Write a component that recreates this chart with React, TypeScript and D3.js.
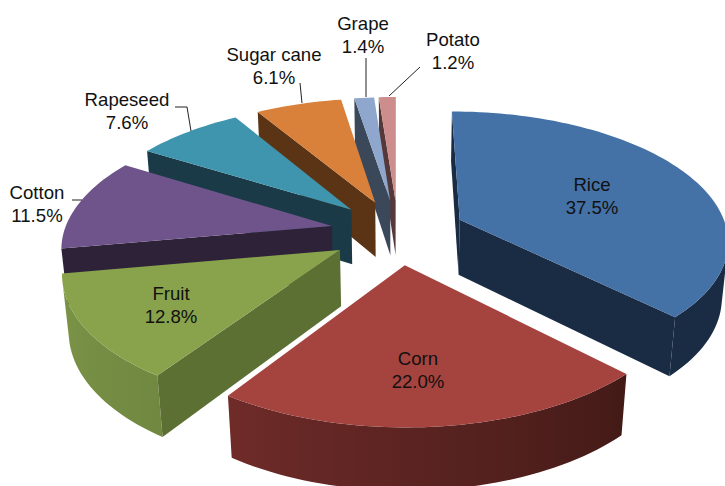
import * as d3 from "d3";

const categories = ["Rice", "Corn", "Fruit", "Cotton", "Rapeseed", "Sugar cane", "Grape", "Potato"];
const shares = [37.5, 22.0, 12.8, 11.5, 7.6, 6.1, 1.4, 1.2];

const topColors = ["#4471a6", "#a5433f", "#88a34b", "#6f548c", "#3f95ad", "#d9803a", "#8fa6cd", "#cd8d8c"];
const wallColors = ["#1a2c44", "#431a17", "#5d7033", "#2d2238", "#193a46", "#5a3415", "#3b485a", "#55393a"];
const rimColors = ["#1a2c44", "#883533", "#7c9648", "#2d2238", "#193a46", "#5a3415", "#3b485a", "#55393a"];

// slices painted back to front
const paintOrder = [7, 6, 5, 4, 3, 2, 0, 1];

const labelCenters: [number, number][] = [
  [592, 184], [418, 358], [171, 293], [37, 192], [127, 99], [274, 54], [363, 23], [453, 39],
];
const leaders: [number, number][][] = [
  [], [], [],
  [[72, 200], [82, 200]],
  [[175, 107], [187, 107], [191, 131]],
  [[300, 83], [302, 103]],
  [[366, 58], [366, 97]],
  [[389, 96], [420, 67]],
];

const width = 725;
const height = 486;

// pinhole camera looking down on the pie, radius 1
const cx = 398;
const cy = 232;
const focal = 1610;
const dist = 6.01;
const tilt = Math.asin(0.476);
const explode = 0.253;
const thickness = 0.24;

const project = (x: number, y: number, z: number): [number, number] => {
  const d = dist - y * Math.cos(tilt) - z * Math.sin(tilt);
  return [cx + (focal * x) / d, cy + (focal * (y * Math.sin(tilt) - z * Math.cos(tilt))) / d];
};

const polygon = d3.line().curve(d3.curveLinearClosed);

const App = () => {
  const arcs = d3.pie<number>().sort(null)(shares);

  const slices = paintOrder.map((i) => {
    const { startAngle, endAngle } = arcs[i];
    const mid = (startAngle + endAngle) / 2;
    const ox = explode * Math.sin(mid);
    const oy = -explode * Math.cos(mid);
    const steps = Math.max(2, Math.ceil((endAngle - startAngle) / 0.03));
    const angle = d3.scaleLinear().domain([0, steps]).range([startAngle, endAngle]);

    const apex = [ox, oy];
    const rim = d3.range(steps + 1).map((s) => {
      const a = angle(s);
      return [ox + Math.sin(a), oy - Math.cos(a), a];
    });

    const quad = (p: number[], q: number[]) => [
      project(p[0], p[1], 0),
      project(q[0], q[1], 0),
      project(q[0], q[1], -thickness),
      project(p[0], p[1], -thickness),
    ];

    // flat cut faces, only when turned towards the camera
    const cuts = [quad(apex, rim[0]), quad(rim[steps], apex)]
      .filter((poly) => d3.polygonArea(poly) > 0)
      .map((poly) => polygon(poly) as string);

    // the part of the round wall we can see, as one path with a sideways gradient
    const seen = rim.filter((p, n) => {
      const q = rim[n + 1] ?? rim[n - 1];
      const poly = rim[n + 1] ? quad(p, q) : quad(q, p);
      return d3.polygonArea(poly) > 0;
    });
    const shade = d3
      .scaleLinear<string>()
      .domain([(3 * Math.PI) / 4, (13 * Math.PI) / 9])
      .range([wallColors[i], rimColors[i]])
      .clamp(true);
    const seenTop = seen.map((p) => project(p[0], p[1], 0));
    const seenBottom = seen.map((p) => project(p[0], p[1], -thickness)).reverse();
    const x0 = seenTop[0]?.[0] ?? 0;
    const x1 = seenTop[seenTop.length - 1]?.[0] ?? 1;
    const stops = seen.map((p, n) => ({
      offset: (seenTop[n][0] - x0) / (x1 - x0 || 1),
      color: shade(p[2]),
    }));

    const wall = seen.length > 1 ? (polygon([...seenTop, ...seenBottom]) as string) : null;
    const top = polygon([apex, ...rim].map((p) => project(p[0], p[1], 0))) as string;
    return { i, cuts, wall, top, x0, x1, stops };
  });

  return (
    <svg width={width} height={height} style={{ position: "absolute", left: 0, top: 0, display: "block", background: "#fff" }}>
      <defs>
        {slices.map(({ i, x0, x1, stops }) => (
          <linearGradient key={i} id={`rim-${i}`} gradientUnits="userSpaceOnUse" x1={x0} x2={x1} y1={0} y2={0}>
            {stops.map((s, n) => (
              <stop key={n} offset={s.offset} stopColor={s.color} />
            ))}
          </linearGradient>
        ))}
      </defs>
      {slices.map(({ i, cuts, wall, top }) => (
        <g key={categories[i]}>
          {wall && <path d={wall} fill={`url(#rim-${i})`} />}
          {cuts.map((d, n) => (
            <path key={n} d={d} fill={wallColors[i]} />
          ))}
          <path d={top} fill={topColors[i]} />
        </g>
      ))}
      {leaders.map((pts, i) =>
        pts.length ? (
          <path key={i} d={d3.line()(pts) as string} fill="none" stroke="#222" strokeWidth={1} />
        ) : null,
      )}
      <g fontFamily="Liberation Sans, Arial, sans-serif" fontSize={18.6} fill="#111" textAnchor="middle">
        {categories.map((c, i) => (
          <text key={c} x={labelCenters[i][0]} y={labelCenters[i][1]}>
            <tspan x={labelCenters[i][0]} dy="0.35em">{c}</tspan>
            <tspan x={labelCenters[i][0]} dy="23">{shares[i].toFixed(1)}%</tspan>
          </text>
        ))}
      </g>
    </svg>
  );
};

export default App;
